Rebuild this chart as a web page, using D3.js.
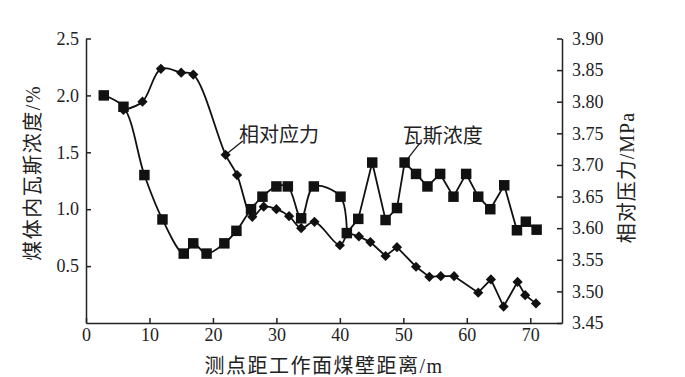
<!DOCTYPE html>
<html>
<head>
<meta charset="utf-8">
<script src="https://cdn.jsdelivr.net/npm/d3@7"></script>
<style>
    body { margin: 0; background: #fff; }
    svg text { fill: #222; }
</style>
</head>
<body>
<div id="chart"></div>
<script>
// distance of measuring point from coal wall (m)
const gasX = [2.8, 5.9, 9.2, 12.05, 15.4, 16.9, 19.0, 21.8, 23.7, 26.0, 27.8, 30.0, 31.8, 33.9, 35.9, 40.1, 41.1,
    42.9, 45.1, 47.2, 49.0, 50.2, 52.0, 53.8, 55.8, 57.9, 59.9, 61.8, 63.7, 65.9, 67.9, 69.3, 71.0];
// gas concentration in coal body (%)
const gasY = [2.0, 1.9, 1.3, 0.91, 0.61, 0.70, 0.61, 0.70, 0.81, 1.0, 1.11, 1.2, 1.2, 0.92, 1.2, 1.11, 0.79,
    0.915, 1.41, 0.905, 1.01, 1.41, 1.31, 1.2, 1.31, 1.11, 1.31, 1.11, 1.0, 1.21, 0.815, 0.89, 0.82];

const stressX = [5.9, 8.9, 11.8, 15.0, 16.9, 22.0, 23.8, 26.2, 28.0, 30.0, 32.0, 33.9, 36.0, 40.0, 41.1,
    43.0, 44.8, 47.2, 49.0, 52.0, 54.1, 55.9, 58.0, 61.8, 63.8, 65.8, 68.0, 69.2, 70.9];
// relative pressure (MPa)
const stressY = [3.787, 3.80, 3.852, 3.846, 3.843, 3.716, 3.684, 3.618, 3.634, 3.63, 3.619, 3.60, 3.61, 3.573, 3.593,
    3.587, 3.578, 3.556, 3.57, 3.539, 3.523, 3.524, 3.524, 3.498, 3.519, 3.476, 3.515, 3.494, 3.481];

const xTicks = [0, 10, 20, 30, 40, 50, 60, 70];
const leftTicks = [0.5, 1.0, 1.5, 2.0, 2.5];
const rightTicks = [3.45, 3.50, 3.55, 3.60, 3.65, 3.70, 3.75, 3.80, 3.85, 3.90];

// smoothed up to this distance, straight segments after
const smoothUntil = 41.1;

class DualAxisChart {
    constructor(parentElement) {
        this.parentElement = parentElement;
        this.initVis();
    }

    initVis() {
        let vis = this;

        vis.margin = { top: 38.5, right: 123, bottom: 54, left: 86 };
        vis.width = 685 - vis.margin.left - vis.margin.right;
        vis.height = 377 - vis.margin.top - vis.margin.bottom;

        vis.svg = d3.select("#" + vis.parentElement)
            .append("svg")
            .attr("width", 685)
            .attr("height", 377)
            .append("g")
            .attr("transform", `translate(${vis.margin.left}, ${vis.margin.top})`);

        vis.xScale = d3.scaleLinear().domain([0, 75]).range([0, vis.width]);
        vis.yLeft = d3.scaleLinear().domain([0, 2.5]).range([vis.height, 0]);
        vis.yRight = d3.scaleLinear().domain([3.45, 3.90]).range([vis.height, 0]);

        vis.gas = gasX.map((x, i) => ({ x: x, y: gasY[i] }));
        vis.stress = stressX.map((x, i) => ({ x: x, y: stressY[i] }));

        vis.drawAxes();
        vis.drawSeries(vis.stress, vis.yRight, 'diamond');
        vis.drawSeries(vis.gas, vis.yLeft, 'square');
        vis.drawAnnotations();
    }

    drawAxes() {
        let vis = this;
        const serif = '"Liberation Serif", "Times New Roman", serif';

        const xAxis = d3.axisBottom(vis.xScale)
            .tickValues(xTicks)
            .tickSizeInner(-5)
            .tickSizeOuter(0)
            .tickPadding(5)
            .tickFormat(d3.format("d"));

        const leftAxis = d3.axisLeft(vis.yLeft)
            .tickValues(leftTicks)
            .tickSizeInner(-5)
            .tickSizeOuter(0)
            .tickPadding(7)
            .tickFormat(d3.format(".1f"));

        const rightAxis = d3.axisRight(vis.yRight)
            .tickValues(rightTicks)
            .tickSizeInner(-5)
            .tickSizeOuter(0)
            .tickPadding(10)
            .tickFormat(d3.format(".2f"));

        const groups = [
            vis.svg.append("g").attr("transform", `translate(0, ${vis.height})`).call(xAxis),
            vis.svg.append("g").call(leftAxis),
            vis.svg.append("g").attr("transform", `translate(${vis.width}, 0)`).call(rightAxis)
        ];

        groups.forEach(g => {
            g.select(".domain").attr("stroke", "#222").attr("stroke-width", 1.5);
            g.selectAll(".tick line").attr("stroke", "#222").attr("stroke-width", 1.5);
            g.selectAll(".tick text")
                .style("font-family", serif)
                .style("font-size", "18px")
                .attr("fill", "#222");
        });

        const labelFont = '"Liberation Serif", "Noto Sans CJK SC", serif';

        vis.svg.append("text")
            .attr("x", vis.width / 2 + 0)
            .attr("y", vis.height + 50)
            .attr("text-anchor", "middle")
            .style("font-family", labelFont)
            .style("font-size", "20px")
            .style("letter-spacing", "1.5px")
            .text("测点距工作面煤壁距离/m");

        vis.svg.append("text")
            .attr("transform", `translate(${33 - vis.margin.left}, ${vis.yLeft(1.32)}) rotate(-90)`)
            .attr("text-anchor", "middle")
            .attr("dy", "0.35em")
            .style("font-family", labelFont)
            .style("font-size", "20px")
            .style("letter-spacing", "1.5px")
            .text("煤体内瓦斯浓度/%");

        vis.svg.append("text")
            .attr("transform", `translate(${627 - vis.margin.left}, ${vis.yRight(3.68)}) rotate(-90)`)
            .attr("text-anchor", "middle")
            .attr("dy", "0.35em")
            .style("font-family", labelFont)
            .style("font-size", "20px")
            .style("letter-spacing", "1px")
            .text("相对压力/MPa");
    }

    drawSeries(data, yScale, shape) {
        let vis = this;

        const smooth = d3.line()
            .x(d => vis.xScale(d.x))
            .y(d => yScale(d.y))
            .curve(d3.curveCatmullRom.alpha(0.5));

        const straight = d3.line()
            .x(d => vis.xScale(d.x))
            .y(d => yScale(d.y));

        vis.svg.append("path")
            .datum(data.filter(d => d.x <= smoothUntil))
            .attr("fill", "none")
            .attr("stroke", "#111")
            .attr("stroke-width", 1.8)
            .attr("d", smooth);

        vis.svg.append("path")
            .datum(data.filter(d => d.x >= smoothUntil - 0.1))
            .attr("fill", "none")
            .attr("stroke", "#111")
            .attr("stroke-width", 1.8)
            .attr("d", straight);

        const symbol = shape === 'square'
            ? d3.symbol().type(d3.symbolSquare).size(110)
            : d3.symbol().type(d3.symbolSquare).size(52);

        vis.svg.selectAll(".marker-" + shape)
            .data(data)
            .enter()
            .append("path")
            .attr("class", "marker-" + shape)
            .attr("d", symbol)
            .attr("fill", "#111")
            .attr("transform", d => `translate(${vis.xScale(d.x)}, ${yScale(d.y)})` +
                (shape === 'diamond' ? ' rotate(45)' : ''));
    }

    drawAnnotations() {
        let vis = this;

        const notes = [
            { text: "相对应力", fromX: 22.0, fromY: 3.716, toX: 24.7, toY: 3.738, scale: vis.yRight },
            { text: "瓦斯浓度", fromX: 50.2, fromY: 1.41, toX: 52.6, toY: 1.58, scale: vis.yLeft }
        ];

        notes.forEach(n => {
            vis.svg.append("line")
                .attr("x1", vis.xScale(n.fromX))
                .attr("y1", n.scale(n.fromY))
                .attr("x2", vis.xScale(n.toX))
                .attr("y2", n.scale(n.toY))
                .attr("stroke", "#111")
                .attr("stroke-width", 1.2);
        });

        vis.svg.append("text")
            .attr("x", vis.xScale(24.1))
            .attr("y", vis.yRight(3.737))
            .style("font-family", '"Noto Sans CJK SC", sans-serif')
            .style("font-size", "20px")
            .text("相对应力");

        vis.svg.append("text")
            .attr("x", vis.xScale(49.9))
            .attr("y", vis.yLeft(1.585))
            .style("font-family", '"Noto Sans CJK SC", sans-serif')
            .style("font-size", "20px")
            .text("瓦斯浓度");
    }
}

new DualAxisChart("chart");
</script>
</body>
</html>
